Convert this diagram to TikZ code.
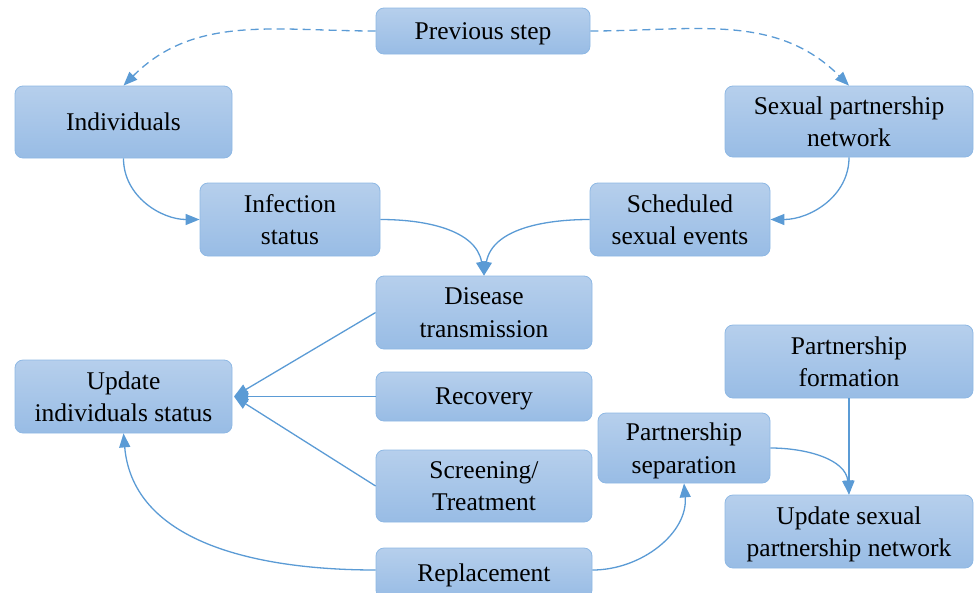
\documentclass[tikz,border=0pt]{standalone}
\usepackage{fontspec}
\setmainfont{Liberation Serif}
\usepackage{tikz}
\usetikzlibrary{arrows.meta}
\definecolor{boxtop}{RGB}{182,207,236}
\definecolor{boxbot}{RGB}{152,188,229}
\definecolor{boxline}{RGB}{142,184,228}
\definecolor{linkblue}{RGB}{91,155,213}

\begin{document}
\begin{tikzpicture}[x=1pt, y=-1pt,
    box/.style={rectangle, rounded corners=8pt, draw=boxline, line width=0.8pt,
        top color=boxtop, bottom color=boxbot, align=center, inner sep=0pt,
        text depth=0pt, font=\fontsize{25.5}{32.5}\selectfont},
    arrow/.style={-{Triangle[length=14pt, width=11pt]}, draw=linkblue, line width=1.3pt},
    dasharrow/.style={arrow, dash pattern=on 8pt off 5pt}
]
    \useasboundingbox (0,0) rectangle (977,592);
    % Boxes
    \node[box, minimum width=214pt, minimum height=46pt] (prev) at (483,31) {Previous step};
    \node[box, minimum width=217pt, minimum height=72pt] (indiv) at (123.5,122) {Individuals};
    \node[box, minimum width=248pt, minimum height=71pt] (network) at (849,121.5) {Sexual partnership\\network};
    \node[box, minimum width=180pt, minimum height=73pt] (infect) at (290,219.5) {Infection\\status};
    \node[box, minimum width=180pt, minimum height=73pt] (sched) at (680,219.5) {Scheduled\\sexual events};
    \node[box, minimum width=216pt, minimum height=73pt] (trans) at (484,312.5) {Disease\\transmission};
    \node[box, minimum width=217pt, minimum height=73pt] (update) at (123.5,396.5) {Update\\individuals status};
    \node[box, minimum width=216pt, minimum height=49pt] (recov) at (484,396.5) {Recovery};
    \node[box, minimum width=216pt, minimum height=72pt] (screen) at (484,486) {Screening/\\Treatment};
    \node[box, minimum width=216pt, minimum height=50pt] (replace) at (484,573) {Replacement};
    \node[box, minimum width=248pt, minimum height=73pt] (form) at (849,361.5) {Partnership\\formation};
    \node[box, minimum width=172pt, minimum height=70pt] (separ) at (684,448) {Partnership\\separation};
    \node[box, minimum width=248pt, minimum height=73pt] (updnet) at (849,531.5) {Update sexual\\partnership network};
    \coordinate (tip) at (234,396.5);

    % Links
    \draw[dasharrow] (prev.west) to[out=180, in=45] (indiv.north);
    \draw[dasharrow] (prev.east) to[out=0, in=135] (network.north);
    \draw[arrow] (indiv.south) to[out=-90, in=180] (infect.west);
    \draw[arrow] (network.south) to[out=-90, in=0] (sched.east);
    \draw[arrow] (infect.east) to[out=0, in=100] (trans.north);
    \draw[arrow] (sched.west) to[out=180, in=80] (trans.north);
    \draw[arrow] (trans.west) -- (tip);
    \draw[arrow] (recov.west) -- (tip);
    \draw[arrow] (screen.west) -- (tip);
    \draw[arrow] (replace.west |- 0,570) to[out=180, in=-85] (update.south);
    \draw[arrow] (replace.east |- 0,570) to[out=0, in=-85] (separ.south);
    \draw[arrow] (separ.east) to[out=0, in=95] (updnet.north);
    \draw[arrow] (form.south) -- (updnet.north);
\end{tikzpicture}
\end{document}
